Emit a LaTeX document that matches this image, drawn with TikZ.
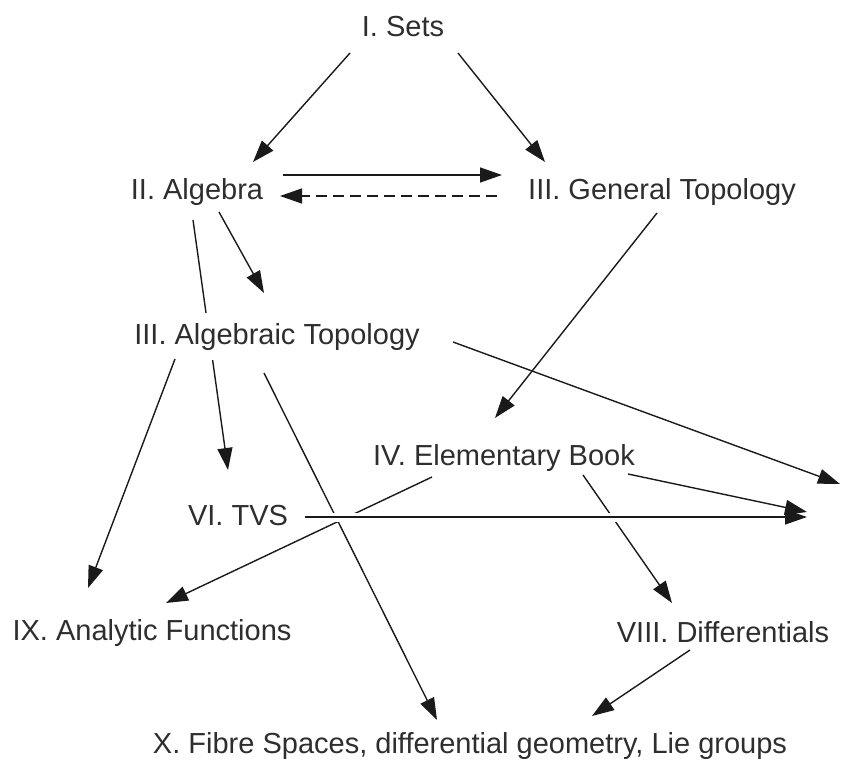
\documentclass[tikz,border=0pt]{standalone}
\usepackage{fontspec}
\setmainfont{Liberation Sans}
\usetikzlibrary{arrows.meta}
\pgfdeclarelayer{background}
\pgfsetlayers{background,main}
\definecolor{ink}{HTML}{2E2E2E}
\definecolor{wire}{HTML}{1A1A1A}
\begin{document}
\begin{tikzpicture}[x=1pt,y=-1pt,
  topic/.style={anchor=base,inner sep=0pt,text=ink,font=\fontsize{29}{34}\selectfont},
  link/.style={draw=wire,line width=1.4pt},
  arr/.style={link,-{Triangle[length=22pt,width=15pt]}},
  halo/.style={draw=white,line width=9pt}]
\useasboundingbox (0,0) rectangle (841,762);

% chapters
\node[topic] (sets)  at (403,37)  {I. Sets};
\node[topic] (alg)   at (197,200) {II. Algebra};
\node[topic] (gtop)  at (662,200) {III. General Topology};
\node[topic,fill=white,inner sep=10pt] (atop) at (277,344) {III. Algebraic Topology};
\node[topic] (elem)  at (504,465) {IV. Elementary Book};
\node[topic] (tvs)   at (238,525) {VI. TVS};
\node[topic] (anf)   at (152,640) {IX. Analytic Functions};
\node[topic] (diff)  at (723,642) {VIII. Differentials};
\node[topic] (fibre) at (470,753) {X. Fibre Spaces, differential geometry, Lie groups};

% loose ends on the right border
\coordinate (r1) at (840,484);
\coordinate (r2) at (807,512);
\coordinate (r3) at (807,517);

% Algebra -> TVS runs behind the Algebraic Topology label
\begin{pgfonlayer}{background}
  \draw[arr] ([shift={(-4,20)}]alg.base) -- ([shift={(-10,-55)}]tvs.base);
\end{pgfonlayer}

\draw[arr] ([shift={(-53,16)}]sets.base) -- ([shift={(56,-38)}]alg.base);
\draw[arr] ([shift={(55,16)}]sets.base) -- ([shift={(-117,-38)}]gtop.base);
\draw[arr] ([shift={(86,-25)}]alg.base) -- ([shift={(-160,-25)}]gtop.base);
\draw[arr,dashed,dash pattern=on 11pt off 6pt] ([shift={(-165,-4)}]gtop.base) -- ([shift={(83,-4)}]alg.base);
\draw[arr] ([shift={(22,12)}]alg.base) -- ([shift={(-13,-51)}]atop.base);
\draw[arr] ([shift={(-102,15)}]atop.base) -- ([shift={(-64,-52)}]anf.base);
\draw[arr] ([shift={(-5,13)}]gtop.base) -- ([shift={(-9,-47)}]elem.base);

% lines crossing the TVS arrow
\draw[arr] ([shift={(-13,29)}]atop.base) -- ([shift={(-33,-33)}]fibre.base);
\draw[arr] ([shift={(-72,12)}]elem.base) -- ([shift={(14,-37)}]anf.base);
\draw[arr] ([shift={(79,10)}]elem.base) -- ([shift={(-51,-39)}]diff.base);

% TVS arrow with a white gap around it
\coordinate (tvsout) at ([shift={(67,-8)}]tvs.base);
\draw[halo] (tvsout) -- ([xshift=-110pt]r3);
\draw[arr] (tvsout) -- (r3);

\draw[arr] ([shift={(176,-2)}]atop.base) -- (r1);
\draw[arr] ([shift={(124,9)}]elem.base) -- (r2);
\draw[arr] ([shift={(-33,8)}]diff.base) -- ([shift={(122,-37)}]fibre.base);
\end{tikzpicture}
\end{document}
